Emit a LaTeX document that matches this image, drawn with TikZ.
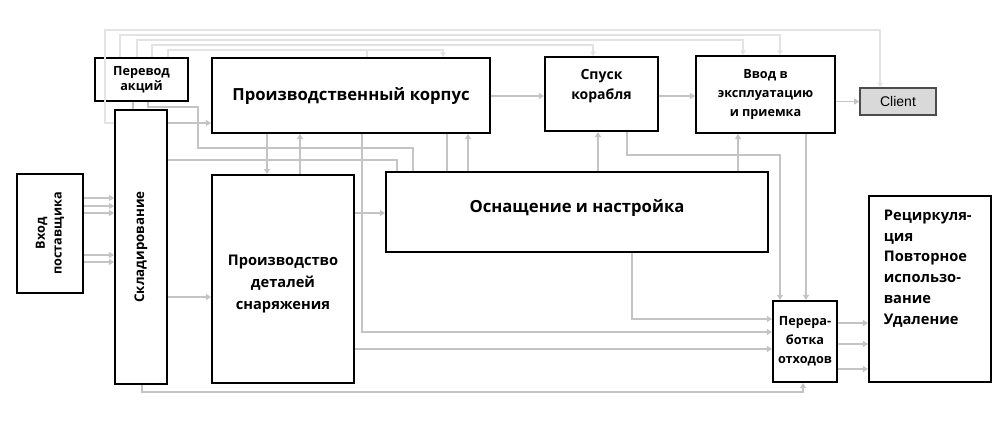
\documentclass[tikz,border=0pt]{standalone}
\usepackage{fontspec}
\setmainfont{Open Sans}
\newfontfamily\clientfont{Liberation Sans}
\usetikzlibrary{arrows.meta}
\definecolor{lineGray}{HTML}{C4C4C4}
\definecolor{faintGray}{HTML}{E3E3E3}
\definecolor{clientFill}{HTML}{D9D9D9}
\tikzset{
  box/.style={draw=black, line width=1.3pt, inner sep=0pt, align=center,
    font=\bfseries\fontsize{9.5}{14.2}\selectfont},
  ln/.style={draw=lineGray, line width=1.1pt},
  arr/.style={ln, -{Triangle[length=4pt,width=4.5pt]}},
  fl/.style={draw=faintGray, line width=0.8pt},
  farr/.style={fl, -{Triangle[length=3.5pt,width=4pt]}},
}
\begin{document}
\begin{tikzpicture}[x=0.75pt,y=-0.75pt]
\useasboundingbox (0,0) rectangle (1004,432);
% boxes
\node[box, minimum width=69.75pt, minimum height=32.25pt] (perevod) at (141.5,79.5) {Перевод\\[-3pt]акций};
\node[box, minimum width=208.5pt, minimum height=56.25pt, font=\bfseries\fontsize{12.5}{15}\selectfont] (korpus) at (351,95.5) {Производственный корпус};
\node[box, minimum width=84.75pt, minimum height=55.5pt] (spusk) at (601.5,94) {};
\node[box, draw=none, align=center, font=\bfseries\fontsize{10.5}{15}\selectfont] (spusktxt) at (spusk.center) [yshift=6pt] {Спуск\\корабля};
\node[box, minimum width=104.25pt, minimum height=57.75pt] (vvod) at (765.5,94.5) {Ввод в\\эксплуатацию\\и приемка};
\node[draw=black!70, line width=0.9pt, fill=clientFill, inner sep=0pt, minimum width=57pt, minimum height=20.25pt, font=\clientfont\fontsize{10.5}{12}\selectfont] (client) at (898,101.5) {Client};
\node[box, minimum width=39pt, minimum height=205.5pt] (sklad) at (141,247) {};
\node[box, draw=none, rotate=90, font=\bfseries\fontsize{10}{12}\selectfont] (skladtxt) at (sklad.center) {Складирование};
\node[box, minimum width=49.5pt, minimum height=89.25pt] (vhod) at (50,233.5) {};
\node[box, draw=none, rotate=90, font=\bfseries\fontsize{9.5}{12.5}\selectfont] (vhodtxt) at (vhod.center) {Вход\\поставщика};
\node[box, minimum width=106.5pt, minimum height=156pt] (proizv) at (283,279) {};
\node[box, draw=none, font=\bfseries\fontsize{11}{16.5}\selectfont] (proizvtxt) at (283,284) {Производство\\деталей\\снаряжения};
\node[box, minimum width=286.5pt, minimum height=60pt] (osnash) at (577,212) {};
\node[box, draw=none, font=\bfseries\fontsize{12.5}{15}\selectfont] (osnashtxt) at (577,208) {Оснащение и настройка};
\node[box, minimum width=48pt, minimum height=60.75pt] (pererab) at (805,341.5) {Перера-\\ботка\\отходов};
\node[box, minimum width=91.5pt, minimum height=139.5pt] (recirc) at (930,289) {};
\node[box, draw=none, align=left, anchor=north west, font=\bfseries\fontsize{11}{15.6}\selectfont] (recirctxt) at (883,209) {Рециркуля-\\ция\\Повторное\\использо-\\вание\\Удаление};
% faint feedback lines
\draw[farr] (sklad.west |- 0,123) -| (105,30) -| (client.north -| 880,0);
\draw[farr] (perevod.north -| 120,0) |- (780,35) -- (vvod.north -| 780,0);
\draw[farr] (perevod.north -| 137,0) |- (743,40) -- (vvod.north -| 743,0);
\draw[farr] (perevod.north -| 152,0) |- (593,45) -- (spusk.north -| 593,0);
\draw[farr] (perevod.north -| 168,0) |- (443,50) -- (korpus.north -| 443,0);
\draw[fl] (367,50) -- (korpus.north -| 367,0);
% main line connectors
\draw[arr] (korpus.east |- 0,96) -- (spusk.west |- 0,96);
\draw[arr] (spusk.east |- 0,96) -- (vvod.west |- 0,96);
\draw[arr] (vvod.east |- client.west) -- (client.west);
\foreach \yy in {198,206,213,255,262}
  \draw[arr] (vhod.east |- 0,\yy) -- (sklad.west |- 0,\yy);
\draw[arr] (sklad.east |- 0,123) -- (korpus.west |- 0,123);
\draw[arr] (sklad.east |- 0,297) -- (proizv.west |- 0,297);
\draw[ln] (perevod.south -| 133,0) -- (sklad.north -| 133,0);
\draw[ln] (perevod.south -| 148,0) |- (198,107) |- (413,148) -- (osnash.north -| 413,0);
\draw[ln] (sklad.east |- 0,160) -| (osnash.north -| 397,0);
\draw[arr] (korpus.south -| 267,0) -- (proizv.north -| 267,0);
\draw[arr] (proizv.north -| 300,0) -- (korpus.south -| 300,0);
\draw[arr] (korpus.south -| 362,0) |- (pererab.west |- 0,332);
\draw[arr] (proizv.east |- 0,213) -- (osnash.west |- 0,213);
\draw[ln] (korpus.south -| 447,0) -- (osnash.north -| 447,0);
\draw[arr] (osnash.north -| 468,0) -- (korpus.south -| 468,0);
\draw[arr] (osnash.north -| 598,0) -- (spusk.south -| 598,0);
\draw[arr] (osnash.north -| 738,0) -- (vvod.south -| 738,0);
\draw[arr] (spusk.south -| 627,0) |- (780,155) -- (pererab.north -| 780,0);
\draw[arr] (vvod.south -| 806,0) -- (pererab.north -| 806,0);
\draw[arr] (osnash.south -| 632,0) |- (pererab.west |- 0,319);
\draw[arr] (proizv.east |- 0,349) -- (pererab.west |- 0,349);
\draw[arr] (sklad.south -| 142,0) |- (803,392) -- (pererab.south -| 803,0);
\foreach \yy in {323,344,369}
  \draw[arr] (pererab.east |- 0,\yy) -- (recirc.west |- 0,\yy);
\end{tikzpicture}
\end{document}
